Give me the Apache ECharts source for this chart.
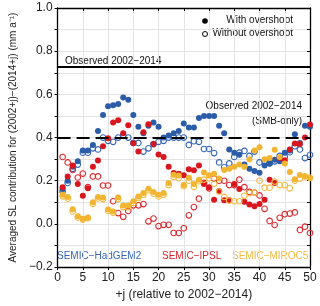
<!DOCTYPE html>
<html><head><meta charset="utf-8">
<script src="https://cdn.jsdelivr.net/npm/echarts@6/dist/echarts.min.js"></script>
<style>html,body{margin:0;padding:0;background:#fff}#c{width:320px;height:306px}</style>
</head><body><div id="c"></div>
<script>
// j values (years relative to 2002-2014)
var J = [];
for (var i = 1; i <= 50; i++) J.push(i);

var hadgem2With = [0.16,0.20,0.265,0.29,0.34,0.34,0.365,0.43,0.505,0.545,0.55,0.555,0.585,0.575,0.505,0.45,0.42,0.455,0.47,0.45,
  0.40,0.41,0.42,0.43,0.465,0.447,0.447,0.49,0.50,0.50,0.50,0.455,0.42,0.345,0.33,0.32,0.275,0.256,0.245,0.237,
  0.27,0.28,0.297,0.29,0.33,0.34,0.415,0.375,0.455,0.45];
var hadgem2Without = [0.15,0.19,0.255,0.275,0.33,0.33,0.35,0.345,0.40,0.385,0.38,0.40,0.41,0.40,0.375,0.375,0.335,0.35,0.37,0.38,
  0.385,0.40,0.40,0.40,0.40,0.366,0.383,0.38,0.347,0.347,0.328,0.285,0.262,0.28,0.31,0.33,0.338,0.315,0.335,0.285,
  0.29,0.28,0.29,0.315,0.31,0.332,0.36,0.345,0.305,0.32];
var ipslWith = [0.17,0.22,0.27,0.185,0.13,0.165,0.265,0.294,0.36,0.397,0.47,0.48,0.42,0.457,0.374,0.335,0.425,0.462,0.37,0.322,
  0.31,0.265,0.236,0.232,0.225,0.253,0.248,0.27,0.185,0.17,0.112,0.152,0.11,0.11,0.185,0.162,0.103,0.09,0.082,0.092,
  0.112,0.205,0.19,0.305,0.295,0.345,0.372,0.37,0.40,0.46];
var ipslWithout = [0.31,0.285,0.25,0.215,0.233,0.17,0.22,0.22,0.178,0.178,0.105,0.05,0.033,0.06,0.086,0.086,0.092,0.012,0.025,-0.01,
  -0.004,-0.004,-0.042,-0.042,-0.02,0.04,0.078,0.117,0.19,0.165,0.21,0.2,0.2,0.18,0.18,0.205,0.17,0.148,0.145,0.132,
  0.07,0.014,-0.005,0.028,0.045,0.048,0.053,-0.028,-0.013,-0.042];
var miroc5With = [0.135,0.125,0.068,0.035,0.024,0.03,0.1,0.125,0.122,0.067,0.057,0.122,0.085,0.085,0.105,0.127,0.143,0.163,0.148,0.135,
  0.143,0.19,0.228,0.224,0.18,0.214,0.185,0.205,0.238,0.225,0.232,0.21,0.25,0.255,0.265,0.275,0.265,0.30,0.34,0.355,
  0.30,0.305,0.344,0.31,0.28,0.241,0.207,0.227,0.22,0.212];
var miroc5Without = [0.128,0.117,0.058,0.03,0.02,0.027,0.093,0.118,0.115,0.06,0.052,0.115,0.078,0.078,0.097,0.12,0.135,0.156,0.14,0.127,
  0.135,0.18,0.218,0.212,0.175,0.2,0.172,0.198,0.205,0.212,0.186,0.15,0.125,0.108,0.105,0.105,0.13,0.143,0.145,0.2,
  0.168,0.168,0.196,0.18,0.18,0.165,0.2,0.21,0.22,0.215];

var observedTotal = 0.73;
var observedSMB = 0.40;

var xTicks = [0,5,10,15,20,25,30,35,40,45,50];
var yTickLabels = [-0.2,0.0,0.2,0.4,0.6,0.8,1.0];

var modelNames = ['SEMIC\u2212HadGEM2','SEMIC\u2212IPSL','SEMIC\u2212MIROC5'];
var legendNames = ['With overshoot','Without overshoot'];
var obsLabel = 'Observed 2002\u22122014';
var smbLabel = '(SMB-only)';

var C_BLUE = '#2b5ca8', C_RED = '#d8161e', C_YEL = '#f2b531';
var FONT = 'Liberation Sans';

function pts(arr){ return arr.map(function(v,k){ return [J[k], v]; }); }
function filled(name, arr, col){
  return {type:'scatter', name:name, data:pts(arr), symbol:'circle', symbolSize:6,
    itemStyle:{color:col, opacity:1}, silent:true, animation:false, z:3};
}
function open(name, arr, col){
  return {type:'scatter', name:name, data:pts(arr), symbol:'circle', symbolSize:5.6,
    itemStyle:{color:'rgba(255,255,255,0)', borderColor:col, borderWidth:1.1, opacity:1}, silent:true, animation:false, z:3};
}

var chart = echarts.init(document.getElementById('c'), null, {renderer:'canvas'});
chart.setOption({
  animation:false,
  backgroundColor:'#fff',
  textStyle:{fontFamily:FONT},
  grid:{left:48, right:10, top:8, bottom:36, containLabel:false},
  xAxis:[
    {type:'value', min:0, max:50, interval:5, position:'bottom',
     name:'+j (relative to 2002\u22122014)', nameLocation:'middle', nameGap:21,
     nameTextStyle:{fontFamily:FONT, fontSize:12, color:'#222'},
     axisLine:{show:true, onZero:false, lineStyle:{color:'#000', width:1.3}},
     axisTick:{show:true, inside:false, length:3, lineStyle:{color:'#000'}},
     axisLabel:{fontFamily:FONT, fontSize:12, color:'#222', margin:5,
       formatter:function(v){ return xTicks.indexOf(v)>=0 ? String(v) : ''; }},
     splitLine:{show:true, lineStyle:{color:'#e3e3e3', width:1}}},
    {type:'value', min:0, max:50, interval:5, position:'top',
     axisLine:{show:true, onZero:false, lineStyle:{color:'#000', width:1.3}},
     axisTick:{show:true, inside:true, length:3, lineStyle:{color:'#000'}},
     axisLabel:{show:false}, splitLine:{show:false}}
  ],
  yAxis:[
    {type:'value', min:-0.2, max:1.0, interval:0.1, position:'left',
     name:'Averaged SL contribution for (2002+j)\u2212(2014+j) (mm a\u207B\u00B9)', nameLocation:'middle', nameGap:32,
     nameTextStyle:{fontFamily:FONT, fontSize:10, color:'#222'},
     axisLine:{show:true, onZero:false, lineStyle:{color:'#000', width:1.3}},
     axisTick:{show:true, inside:false, length:3, lineStyle:{color:'#000'}},
     axisLabel:{fontFamily:FONT, fontSize:12, color:'#222', margin:5,
       formatter:function(v){
         for (var k=0;k<yTickLabels.length;k++){ if (Math.abs(yTickLabels[k]-v)<1e-6) return v<0 ? '\u2212'+Math.abs(v).toFixed(1) : v.toFixed(1); }
         return '';
       }},
     splitLine:{show:true, lineStyle:{color:'#e3e3e3', width:1}}},
    {type:'value', min:-0.2, max:1.0, interval:0.1, position:'right',
     axisLine:{show:true, onZero:false, lineStyle:{color:'#000', width:1.3}},
     axisTick:{show:true, inside:true, length:3, lineStyle:{color:'#000'}},
     axisLabel:{show:false}, splitLine:{show:false}}
  ],
  series:[
    {type:'line', data:[], silent:true, z:2,
     markLine:{symbol:'none', silent:true, animation:false, label:{show:false},
       data:[
         {yAxis:observedTotal, lineStyle:{color:'#000', width:2, type:'solid'}},
         {yAxis:observedSMB, lineStyle:{color:'#000', width:2, type:[13,6]}}
       ]}},
    open('HadGEM2 without', hadgem2Without, '#3567b8'),
    filled('HadGEM2 with', hadgem2With, C_BLUE),
    open('IPSL without', ipslWithout, '#dc2a30'),
    filled('IPSL with', ipslWith, C_RED),
    open('MIROC5 without', miroc5Without, '#f4bb44'),
    filled('MIROC5 with', miroc5With, C_YEL)
  ],
  graphic:[
    {type:'text', left:65, top:56, style:{text:obsLabel, font:'10px "Liberation Sans"', fill:'#111'}},
    {type:'text', right:18, top:101, style:{text:obsLabel, font:'10px "Liberation Sans"', fill:'#111'}},
    {type:'text', right:18, top:116, style:{text:smbLabel, font:'10px "Liberation Sans"', fill:'#111'}},
    {type:'circle', shape:{cx:205, cy:21, r:2.8}, style:{fill:'#000'}},
    {type:'text', right:27, top:15.5, style:{text:legendNames[0], font:'10px "Liberation Sans"', fill:'#111'}},
    {type:'circle', shape:{cx:205, cy:34, r:2.5}, style:{fill:'#fff', stroke:'#000', lineWidth:1}},
    {type:'text', right:27, top:28.5, style:{text:legendNames[1], font:'10px "Liberation Sans"', fill:'#111'}},
    {type:'text', left:57, top:251, style:{text:modelNames[0], font:'10px "Liberation Sans"', fill:'#3766b4'}},
    {type:'text', left:162, top:251, style:{text:modelNames[1], font:'10px "Liberation Sans"', fill:'#d8232a'}},
    {type:'text', left:232, top:251, style:{text:modelNames[2], font:'10px "Liberation Sans"', fill:'#f5b93e'}}
  ]
});
</script></body></html>
